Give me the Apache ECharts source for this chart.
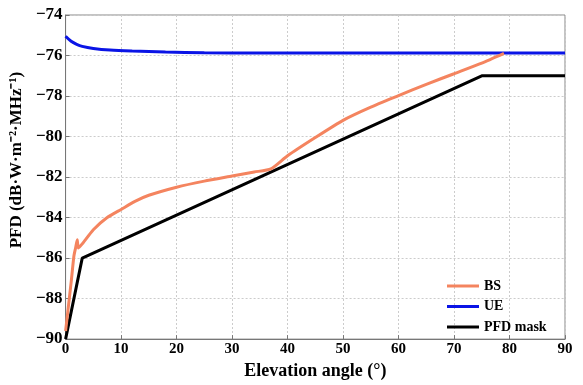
<!DOCTYPE html>
<html>
<head>
<meta charset="utf-8">
<script src="https://cdn.jsdelivr.net/npm/echarts@6/dist/echarts.min.js"></script>
<style>
  html, body { margin: 0; padding: 0; background: #fff; }
  #chart { width: 583px; height: 385px; }
</style>
</head>
<body>
<div id="chart"></div>
<script>
// values
const bsAngle = [0, 0.5, 1, 1.5, 1.8, 2.1, 2.3, 3, 5, 7.5, 10, 12.5, 15, 20, 25, 30, 34, 37, 40, 45, 50, 55, 60, 65, 70, 75, 79];
const bsPfd = [-89.6, -88.4, -87.2, -85.9, -85.5, -85.1, -85.5, -85.3, -84.6, -84.0, -83.6, -83.2, -82.9, -82.5, -82.2, -81.95, -81.75, -81.6, -80.95, -80.05, -79.2, -78.55, -77.98, -77.42, -76.9, -76.38, -75.9];

const ueAngle = [0, 1, 2, 3, 5, 8, 12, 18, 25, 35, 90];
const uePfd = [-75.05, -75.3, -75.45, -75.55, -75.65, -75.73, -75.78, -75.83, -75.86, -75.88, -75.88];

const maskAngle = [0, 3, 75, 90];
const maskPfd = [-90, -86, -77, -77];

const seriesNames = ["BS", "UE", "PFD mask"];
const seriesColors = ["#f4845f", "#0a14e6", "#000000"];

const font = "'Liberation Serif', 'Times New Roman', serif";
const zip = (xs, ys) => xs.map((x, i) => [x, ys[i]]);
const minus = (v) => String(v).replace("-", "\u2212");

const chart = echarts.init(document.getElementById("chart"));

chart.setOption({
  backgroundColor: "#fff",
  animation: false,
  grid: {
    left: 64, right: 18, top: 15, bottom: 38,
    show: true, borderColor: "#888", borderWidth: 1
  },
  legend: {
    orient: "vertical",
    left: 442, top: 274,
    itemWidth: 32, itemHeight: 14, itemGap: 6.5,
    data: seriesNames.map((n) => ({ name: n, icon: "path://M0,0 L32,0 L32,3 L0,3 Z" })),
    textStyle: { fontFamily: font, fontWeight: "bold", fontSize: 14, color: "#000" }
  },
  xAxis: {
    type: "value", min: 0, max: 90, interval: 10,
    name: "Elevation angle (°)", nameLocation: "middle", nameGap: 22,
    nameTextStyle: { fontFamily: font, fontWeight: "bold", fontSize: 18, color: "#000" },
    axisLine: { lineStyle: { color: "#777" } },
    axisTick: { inside: true, length: 4, lineStyle: { color: "#777" } },
    axisLabel: { fontFamily: font, fontWeight: "bold", fontSize: 15, color: "#000", margin: 3 },
    splitLine: { lineStyle: { color: "#ccc", type: [2, 2] } }
  },
  yAxis: {
    type: "value", min: -90, max: -74, interval: 2,
    name: "PFD (dB\u00b7W\u00b7m\u207b\u00b2\u00b7MHz\u207b\u00b9)", nameLocation: "middle", nameGap: 36,
    nameTextStyle: { fontFamily: font, fontWeight: "bold", fontSize: 17, color: "#000", padding: [0, 0, 0, 34] },
    axisLine: { show: true, lineStyle: { color: "#777" } },
    axisTick: { show: true, inside: true, length: 4, lineStyle: { color: "#777" } },
    axisLabel: { fontFamily: font, fontWeight: "bold", fontSize: 17, color: "#000", margin: 3, formatter: minus },
    splitLine: { lineStyle: { color: "#ccc", type: [2, 2] } }
  },
  series: [
    { name: seriesNames[0], data: zip(bsAngle, bsPfd), color: seriesColors[0], smooth: 0.2 },
    { name: seriesNames[1], data: zip(ueAngle, uePfd), color: seriesColors[1], smooth: 0.3 },
    { name: seriesNames[2], data: zip(maskAngle, maskPfd), color: seriesColors[2], smooth: false }
  ].map((s) => ({
    ...s,
    type: "line",
    showSymbol: false,
    lineStyle: { width: 3, color: s.color },
    z: s.name === "BS" ? 3 : 2
  }))
});
</script>
</body>
</html>
